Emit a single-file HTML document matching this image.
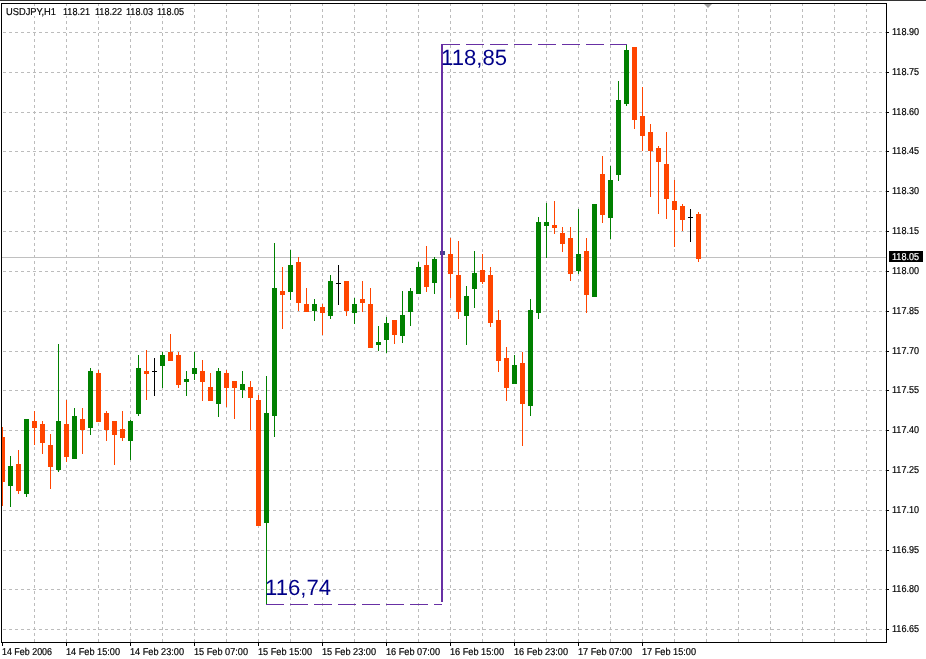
<!DOCTYPE html><html><head><meta charset="utf-8"><style>html,body{margin:0;padding:0;background:#fff;}svg{display:block;will-change:transform;}text{font-family:"Liberation Sans",Arial,sans-serif;text-rendering:geometricPrecision;}.s{stroke:#000;stroke-width:0.2px;}.w{stroke:#fff;stroke-width:0.2px;}</style></head><body>
<svg width="926" height="659" viewBox="0 0 926 659" shape-rendering="crispEdges">
<rect x="0" y="0" width="926" height="659" fill="#fff"/>
<rect x="0" y="0" width="926" height="1" fill="#333"/>
<defs><clipPath id="ca"><rect x="2" y="4" width="884" height="638"/></clipPath></defs>
<g clip-path="url(#ca)">
<path d="M3 32.5H886 M3 72.5H886 M3 112.5H886 M3 151.5H886 M3 191.5H886 M3 231.5H886 M3 271.5H886 M3 311.5H886 M3 351.5H886 M3 390.5H886 M3 430.5H886 M3 470.5H886 M3 510.5H886 M3 550.5H886 M3 589.5H886 M3 629.5H886 M34.5 3V642 M66.5 3V642 M98.5 3V642 M130.5 3V642 M162.5 3V642 M194.5 3V642 M226.5 3V642 M258.5 3V642 M290.5 3V642 M322.5 3V642 M354.5 3V642 M386.5 3V642 M418.5 3V642 M450.5 3V642 M482.5 3V642 M514.5 3V642 M546.5 3V642 M578.5 3V642 M610.5 3V642 M642.5 3V642 M674.5 3V642 M706.5 3V642 M738.5 3V642 M770.5 3V642 M802.5 3V642 M834.5 3V642 M866.5 3V642" stroke="#BCBCBC" stroke-width="1" stroke-dasharray="3 3" fill="none"/>
<rect x="2" y="257" width="884" height="1" fill="#C0C0C0"/>
<rect x="2" y="427" width="1" height="79" fill="#FF4500"/><rect x="0" y="437" width="5" height="45" fill="#FF4500"/>
<rect x="10" y="456" width="1" height="51" fill="#008000"/><rect x="8" y="466" width="5" height="20" fill="#008000"/>
<rect x="18" y="450" width="1" height="44" fill="#FF4500"/><rect x="16" y="464" width="5" height="27" fill="#FF4500"/>
<rect x="26" y="419" width="1" height="78" fill="#008000"/><rect x="24" y="419" width="5" height="75" fill="#008000"/>
<rect x="34" y="411" width="1" height="34" fill="#FF4500"/><rect x="32" y="421" width="5" height="7" fill="#FF4500"/>
<rect x="42" y="421" width="1" height="33" fill="#FF4500"/><rect x="40" y="424" width="5" height="19" fill="#FF4500"/>
<rect x="50" y="434" width="1" height="55" fill="#FF4500"/><rect x="48" y="445" width="5" height="22" fill="#FF4500"/>
<rect x="58" y="344" width="1" height="128" fill="#008000"/><rect x="56" y="421" width="5" height="49" fill="#008000"/>
<rect x="66" y="400" width="1" height="62" fill="#FF4500"/><rect x="64" y="424" width="5" height="33" fill="#FF4500"/>
<rect x="74" y="408" width="1" height="51" fill="#008000"/><rect x="72" y="416" width="5" height="43" fill="#008000"/>
<rect x="82" y="408" width="1" height="46" fill="#FF4500"/><rect x="80" y="419" width="5" height="11" fill="#FF4500"/>
<rect x="90" y="368" width="1" height="67" fill="#008000"/><rect x="88" y="371" width="5" height="57" fill="#008000"/>
<rect x="98" y="370" width="1" height="52" fill="#FF4500"/><rect x="96" y="373" width="5" height="49" fill="#FF4500"/>
<rect x="106" y="411" width="1" height="30" fill="#FF4500"/><rect x="104" y="413" width="5" height="17" fill="#FF4500"/>
<rect x="114" y="421" width="1" height="44" fill="#FF4500"/><rect x="112" y="421" width="5" height="14" fill="#FF4500"/>
<rect x="122" y="411" width="1" height="30" fill="#FF4500"/><rect x="120" y="429" width="5" height="9" fill="#FF4500"/>
<rect x="130" y="420" width="1" height="40" fill="#008000"/><rect x="128" y="421" width="5" height="20" fill="#008000"/>
<rect x="138" y="355" width="1" height="61" fill="#008000"/><rect x="136" y="368" width="5" height="46" fill="#008000"/>
<rect x="146" y="350" width="1" height="50" fill="#FF4500"/><rect x="144" y="371" width="5" height="3" fill="#FF4500"/>
<rect x="154" y="358" width="1" height="38" fill="#000000"/><rect x="152" y="371" width="5" height="1" fill="#000000"/>
<rect x="162" y="352" width="1" height="36" fill="#008000"/><rect x="160" y="355" width="5" height="11" fill="#008000"/>
<rect x="170" y="334" width="1" height="27" fill="#FF4500"/><rect x="168" y="352" width="5" height="9" fill="#FF4500"/>
<rect x="178" y="352" width="1" height="36" fill="#FF4500"/><rect x="176" y="355" width="5" height="30" fill="#FF4500"/>
<rect x="186" y="371" width="1" height="25" fill="#008000"/><rect x="184" y="379" width="5" height="3" fill="#008000"/>
<rect x="194" y="352" width="1" height="28" fill="#008000"/><rect x="192" y="368" width="5" height="6" fill="#008000"/>
<rect x="202" y="360" width="1" height="41" fill="#FF4500"/><rect x="200" y="371" width="5" height="11" fill="#FF4500"/>
<rect x="210" y="373" width="1" height="28" fill="#FF4500"/><rect x="208" y="387" width="5" height="14" fill="#FF4500"/>
<rect x="218" y="368" width="1" height="49" fill="#008000"/><rect x="216" y="371" width="5" height="33" fill="#008000"/>
<rect x="226" y="370" width="1" height="37" fill="#FF4500"/><rect x="224" y="373" width="5" height="15" fill="#FF4500"/>
<rect x="234" y="381" width="1" height="38" fill="#FF4500"/><rect x="232" y="381" width="5" height="7" fill="#FF4500"/>
<rect x="242" y="371" width="1" height="27" fill="#008000"/><rect x="240" y="384" width="5" height="6" fill="#008000"/>
<rect x="250" y="381" width="1" height="49" fill="#FF4500"/><rect x="248" y="387" width="5" height="11" fill="#FF4500"/>
<rect x="258" y="395" width="1" height="131" fill="#FF4500"/><rect x="256" y="400" width="5" height="126" fill="#FF4500"/>
<rect x="266" y="376" width="1" height="228" fill="#008000"/><rect x="264" y="413" width="5" height="110" fill="#008000"/>
<rect x="274" y="243" width="1" height="194" fill="#008000"/><rect x="272" y="288" width="5" height="128" fill="#008000"/>
<rect x="282" y="267" width="1" height="62" fill="#FF4500"/><rect x="280" y="291" width="5" height="4" fill="#FF4500"/>
<rect x="290" y="250" width="1" height="50" fill="#008000"/><rect x="288" y="265" width="5" height="27" fill="#008000"/>
<rect x="298" y="257" width="1" height="54" fill="#FF4500"/><rect x="296" y="262" width="5" height="41" fill="#FF4500"/>
<rect x="306" y="288" width="1" height="24" fill="#FF4500"/><rect x="304" y="304" width="5" height="8" fill="#FF4500"/>
<rect x="314" y="299" width="1" height="22" fill="#008000"/><rect x="312" y="304" width="5" height="7" fill="#008000"/>
<rect x="322" y="304" width="1" height="31" fill="#FF4500"/><rect x="320" y="307" width="5" height="6" fill="#FF4500"/>
<rect x="330" y="275" width="1" height="44" fill="#008000"/><rect x="328" y="281" width="5" height="35" fill="#008000"/>
<rect x="338" y="265" width="1" height="40" fill="#000000"/><rect x="336" y="283" width="5" height="1" fill="#000000"/>
<rect x="346" y="281" width="1" height="35" fill="#FF4500"/><rect x="344" y="281" width="5" height="30" fill="#FF4500"/>
<rect x="354" y="298" width="1" height="26" fill="#008000"/><rect x="352" y="304" width="5" height="9" fill="#008000"/>
<rect x="362" y="281" width="1" height="31" fill="#FF4500"/><rect x="360" y="299" width="5" height="4" fill="#FF4500"/>
<rect x="370" y="288" width="1" height="60" fill="#FF4500"/><rect x="368" y="304" width="5" height="44" fill="#FF4500"/>
<rect x="378" y="326" width="1" height="25" fill="#008000"/><rect x="376" y="342" width="5" height="3" fill="#008000"/>
<rect x="386" y="317" width="1" height="36" fill="#008000"/><rect x="384" y="323" width="5" height="17" fill="#008000"/>
<rect x="394" y="320" width="1" height="24" fill="#FF4500"/><rect x="392" y="320" width="5" height="15" fill="#FF4500"/>
<rect x="402" y="291" width="1" height="52" fill="#008000"/><rect x="400" y="315" width="5" height="21" fill="#008000"/>
<rect x="410" y="288" width="1" height="38" fill="#008000"/><rect x="408" y="291" width="5" height="21" fill="#008000"/>
<rect x="418" y="262" width="1" height="32" fill="#008000"/><rect x="416" y="267" width="5" height="27" fill="#008000"/>
<rect x="426" y="246" width="1" height="46" fill="#FF4500"/><rect x="424" y="265" width="5" height="22" fill="#FF4500"/>
<rect x="434" y="257" width="1" height="37" fill="#008000"/><rect x="432" y="259" width="5" height="24" fill="#008000"/>
<rect x="450" y="238" width="1" height="60" fill="#FF4500"/><rect x="448" y="254" width="5" height="20" fill="#FF4500"/>
<rect x="458" y="241" width="1" height="78" fill="#FF4500"/><rect x="456" y="275" width="5" height="37" fill="#FF4500"/>
<rect x="466" y="286" width="1" height="59" fill="#008000"/><rect x="464" y="296" width="5" height="20" fill="#008000"/>
<rect x="474" y="251" width="1" height="57" fill="#008000"/><rect x="472" y="273" width="5" height="16" fill="#008000"/>
<rect x="482" y="254" width="1" height="30" fill="#FF4500"/><rect x="480" y="270" width="5" height="12" fill="#FF4500"/>
<rect x="490" y="267" width="1" height="60" fill="#FF4500"/><rect x="488" y="275" width="5" height="48" fill="#FF4500"/>
<rect x="498" y="310" width="1" height="62" fill="#FF4500"/><rect x="496" y="320" width="5" height="41" fill="#FF4500"/>
<rect x="506" y="347" width="1" height="54" fill="#FF4500"/><rect x="504" y="358" width="5" height="30" fill="#FF4500"/>
<rect x="514" y="355" width="1" height="29" fill="#008000"/><rect x="512" y="365" width="5" height="19" fill="#008000"/>
<rect x="522" y="352" width="1" height="94" fill="#FF4500"/><rect x="520" y="363" width="5" height="41" fill="#FF4500"/>
<rect x="530" y="299" width="1" height="117" fill="#008000"/><rect x="528" y="310" width="5" height="96" fill="#008000"/>
<rect x="538" y="217" width="1" height="102" fill="#008000"/><rect x="536" y="222" width="5" height="91" fill="#008000"/>
<rect x="546" y="203" width="1" height="55" fill="#008000"/><rect x="544" y="222" width="5" height="4" fill="#008000"/>
<rect x="554" y="201" width="1" height="33" fill="#FF4500"/><rect x="552" y="225" width="5" height="3" fill="#FF4500"/>
<rect x="562" y="227" width="1" height="25" fill="#FF4500"/><rect x="560" y="233" width="5" height="11" fill="#FF4500"/>
<rect x="570" y="227" width="1" height="54" fill="#FF4500"/><rect x="568" y="238" width="5" height="36" fill="#FF4500"/>
<rect x="578" y="209" width="1" height="65" fill="#008000"/><rect x="576" y="254" width="5" height="17" fill="#008000"/>
<rect x="586" y="238" width="1" height="75" fill="#FF4500"/><rect x="584" y="251" width="5" height="44" fill="#FF4500"/>
<rect x="594" y="204" width="1" height="93" fill="#008000"/><rect x="592" y="204" width="5" height="93" fill="#008000"/>
<rect x="602" y="156" width="1" height="67" fill="#FF4500"/><rect x="600" y="174" width="5" height="41" fill="#FF4500"/>
<rect x="610" y="166" width="1" height="73" fill="#008000"/><rect x="608" y="180" width="5" height="38" fill="#008000"/>
<rect x="618" y="81" width="1" height="100" fill="#008000"/><rect x="616" y="100" width="5" height="75" fill="#008000"/>
<rect x="626" y="44" width="1" height="62" fill="#008000"/><rect x="624" y="50" width="5" height="54" fill="#008000"/>
<rect x="634" y="47" width="1" height="82" fill="#FF4500"/><rect x="632" y="47" width="5" height="73" fill="#FF4500"/>
<rect x="642" y="87" width="1" height="64" fill="#FF4500"/><rect x="640" y="116" width="5" height="20" fill="#FF4500"/>
<rect x="650" y="124" width="1" height="73" fill="#FF4500"/><rect x="648" y="132" width="5" height="19" fill="#FF4500"/>
<rect x="658" y="146" width="1" height="68" fill="#FF4500"/><rect x="656" y="148" width="5" height="14" fill="#FF4500"/>
<rect x="666" y="132" width="1" height="87" fill="#FF4500"/><rect x="664" y="164" width="5" height="35" fill="#FF4500"/>
<rect x="674" y="180" width="1" height="67" fill="#FF4500"/><rect x="672" y="201" width="5" height="9" fill="#FF4500"/>
<rect x="682" y="204" width="1" height="27" fill="#FF4500"/><rect x="680" y="206" width="5" height="14" fill="#FF4500"/>
<rect x="690" y="209" width="1" height="33" fill="#000000"/><rect x="688" y="217" width="5" height="1" fill="#000000"/>
<rect x="698" y="212" width="1" height="50" fill="#FF4500"/><rect x="696" y="214" width="5" height="45" fill="#FF4500"/>
<rect x="440" y="251" width="5" height="4" fill="#3C4888"/>
<rect x="441" y="44" width="2" height="558" fill="#6830A4"/>
<path d="M442 44.5H627" stroke="#6830A4" stroke-width="1" stroke-dasharray="18 6" fill="none"/>
<path d="M266 604.5H442" stroke="#6830A4" stroke-width="1" stroke-dasharray="18 6" fill="none"/>
</g>
<text x="441" y="65" font-size="22" fill="#000088" textLength="66" lengthAdjust="spacingAndGlyphs">118,85</text>
<text x="265" y="595" font-size="22" fill="#000088" textLength="66" lengthAdjust="spacingAndGlyphs">116,74</text>
<rect x="1.5" y="3.5" width="885" height="639" fill="none" stroke="#000" stroke-width="1"/>
<path d="M704 4H712L708 8Z" fill="#A0A0A0" shape-rendering="auto"/>
<rect x="887" y="32" width="2" height="1" fill="#000"/>
<text class="s" x="892" y="35" font-size="10" textLength="27" lengthAdjust="spacingAndGlyphs">118.90</text>
<rect x="887" y="72" width="2" height="1" fill="#000"/>
<text class="s" x="892" y="75" font-size="10" textLength="27" lengthAdjust="spacingAndGlyphs">118.75</text>
<rect x="887" y="112" width="2" height="1" fill="#000"/>
<text class="s" x="892" y="115" font-size="10" textLength="27" lengthAdjust="spacingAndGlyphs">118.60</text>
<rect x="887" y="151" width="2" height="1" fill="#000"/>
<text class="s" x="892" y="154" font-size="10" textLength="27" lengthAdjust="spacingAndGlyphs">118.45</text>
<rect x="887" y="191" width="2" height="1" fill="#000"/>
<text class="s" x="892" y="194" font-size="10" textLength="27" lengthAdjust="spacingAndGlyphs">118.30</text>
<rect x="887" y="231" width="2" height="1" fill="#000"/>
<text class="s" x="892" y="234" font-size="10" textLength="27" lengthAdjust="spacingAndGlyphs">118.15</text>
<rect x="887" y="271" width="2" height="1" fill="#000"/>
<text class="s" x="892" y="274" font-size="10" textLength="27" lengthAdjust="spacingAndGlyphs">118.00</text>
<rect x="887" y="311" width="2" height="1" fill="#000"/>
<text class="s" x="892" y="314" font-size="10" textLength="27" lengthAdjust="spacingAndGlyphs">117.85</text>
<rect x="887" y="351" width="2" height="1" fill="#000"/>
<text class="s" x="892" y="354" font-size="10" textLength="27" lengthAdjust="spacingAndGlyphs">117.70</text>
<rect x="887" y="390" width="2" height="1" fill="#000"/>
<text class="s" x="892" y="393" font-size="10" textLength="27" lengthAdjust="spacingAndGlyphs">117.55</text>
<rect x="887" y="430" width="2" height="1" fill="#000"/>
<text class="s" x="892" y="433" font-size="10" textLength="27" lengthAdjust="spacingAndGlyphs">117.40</text>
<rect x="887" y="470" width="2" height="1" fill="#000"/>
<text class="s" x="892" y="473" font-size="10" textLength="27" lengthAdjust="spacingAndGlyphs">117.25</text>
<rect x="887" y="510" width="2" height="1" fill="#000"/>
<text class="s" x="892" y="513" font-size="10" textLength="27" lengthAdjust="spacingAndGlyphs">117.10</text>
<rect x="887" y="550" width="2" height="1" fill="#000"/>
<text class="s" x="892" y="553" font-size="10" textLength="27" lengthAdjust="spacingAndGlyphs">116.95</text>
<rect x="887" y="589" width="2" height="1" fill="#000"/>
<text class="s" x="892" y="592" font-size="10" textLength="27" lengthAdjust="spacingAndGlyphs">116.80</text>
<rect x="887" y="629" width="2" height="1" fill="#000"/>
<text class="s" x="892" y="632" font-size="10" textLength="27" lengthAdjust="spacingAndGlyphs">116.65</text>
<rect x="889" y="251" width="34" height="11" fill="#000"/>
<text class="w" x="892" y="260" font-size="10" fill="#fff" textLength="27" lengthAdjust="spacingAndGlyphs">118.05</text>
<rect x="2" y="643" width="1" height="3" fill="#000"/>
<text class="s" x="2" y="655" font-size="10" textLength="50" lengthAdjust="spacingAndGlyphs">14 Feb 2006</text>
<rect x="66" y="643" width="1" height="3" fill="#000"/>
<text class="s" x="66" y="655" font-size="10" textLength="54" lengthAdjust="spacingAndGlyphs">14 Feb 15:00</text>
<rect x="130" y="643" width="1" height="3" fill="#000"/>
<text class="s" x="130" y="655" font-size="10" textLength="54" lengthAdjust="spacingAndGlyphs">14 Feb 23:00</text>
<rect x="194" y="643" width="1" height="3" fill="#000"/>
<text class="s" x="194" y="655" font-size="10" textLength="54" lengthAdjust="spacingAndGlyphs">15 Feb 07:00</text>
<rect x="258" y="643" width="1" height="3" fill="#000"/>
<text class="s" x="258" y="655" font-size="10" textLength="54" lengthAdjust="spacingAndGlyphs">15 Feb 15:00</text>
<rect x="322" y="643" width="1" height="3" fill="#000"/>
<text class="s" x="322" y="655" font-size="10" textLength="54" lengthAdjust="spacingAndGlyphs">15 Feb 23:00</text>
<rect x="386" y="643" width="1" height="3" fill="#000"/>
<text class="s" x="386" y="655" font-size="10" textLength="54" lengthAdjust="spacingAndGlyphs">16 Feb 07:00</text>
<rect x="450" y="643" width="1" height="3" fill="#000"/>
<text class="s" x="450" y="655" font-size="10" textLength="54" lengthAdjust="spacingAndGlyphs">16 Feb 15:00</text>
<rect x="514" y="643" width="1" height="3" fill="#000"/>
<text class="s" x="514" y="655" font-size="10" textLength="54" lengthAdjust="spacingAndGlyphs">16 Feb 23:00</text>
<rect x="578" y="643" width="1" height="3" fill="#000"/>
<text class="s" x="578" y="655" font-size="10" textLength="54" lengthAdjust="spacingAndGlyphs">17 Feb 07:00</text>
<rect x="642" y="643" width="1" height="3" fill="#000"/>
<text class="s" x="642" y="655" font-size="10" textLength="54" lengthAdjust="spacingAndGlyphs">17 Feb 15:00</text>
<rect x="4" y="6" width="182" height="10" fill="#fff"/>
<text class="s" x="6" y="15" font-size="10" textLength="50" lengthAdjust="spacingAndGlyphs">USDJPY,H1</text>
<text class="s" x="63" y="15" font-size="10" textLength="27" lengthAdjust="spacingAndGlyphs">118.21</text>
<text class="s" x="95" y="15" font-size="10" textLength="27" lengthAdjust="spacingAndGlyphs">118.22</text>
<text class="s" x="126" y="15" font-size="10" textLength="27" lengthAdjust="spacingAndGlyphs">118.03</text>
<text class="s" x="157" y="15" font-size="10" textLength="27" lengthAdjust="spacingAndGlyphs">118.05</text>
</svg></body></html>
